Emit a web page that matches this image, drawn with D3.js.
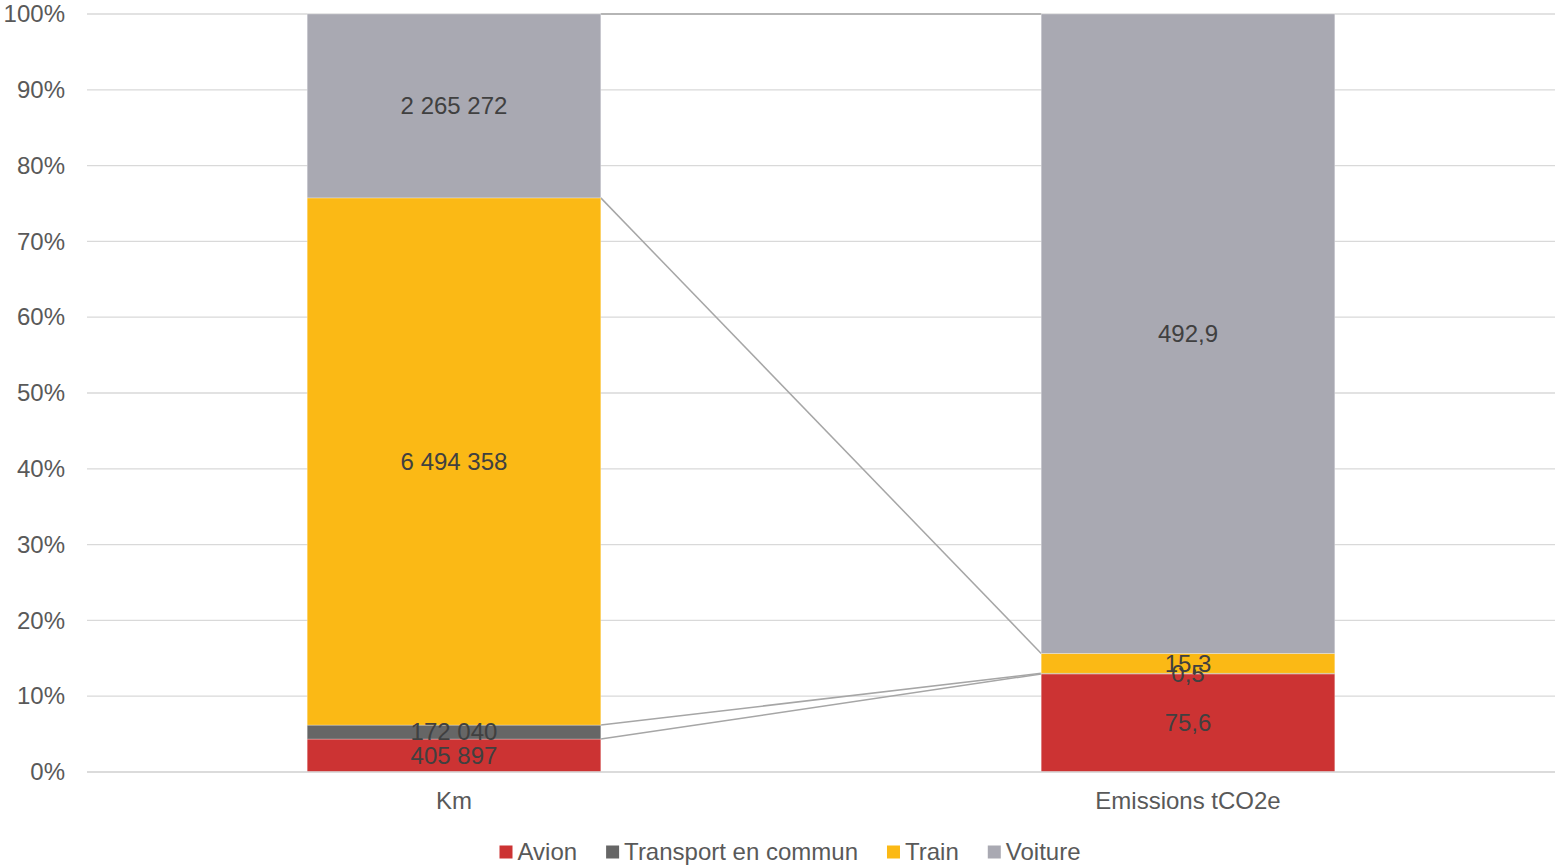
<!DOCTYPE html>
<html>
<head>
<meta charset="utf-8">
<script src="https://cdn.jsdelivr.net/npm/d3@7"></script>
<style>
  html, body { margin: 0; padding: 0; background: #fff; }
  svg { display: block; font-family: "Liberation Sans", Arial, sans-serif; }
</style>
</head>
<body>
<svg id="chart" width="1555" height="866"></svg>
<script>
// Categories and series
const categories = ["Km", "Emissions tCO2e"];
const seriesNames = ["Avion", "Transport en commun", "Train", "Voiture"];
const seriesColors = ["#CC3333", "#666666", "#FBB915", "#A9A9B2"];
const avion = [405897, 75.6];
const transportEnCommun = [172040, 0.5];
const train = [6494358, 15.3];
const voiture = [2265272, 492.9];
const valueLabels = [
  ["405 897", "75,6"],
  ["172 040", "0,5"],
  ["6 494 358", "15,3"],
  ["2 265 272", "492,9"]
];
const yTicks = [0, 0.1, 0.2, 0.3, 0.4, 0.5, 0.6, 0.7, 0.8, 0.9, 1.0];

const seriesValues = [avion, transportEnCommun, train, voiture];
const FS = 24;

// Build a row per category for d3.stack
const rows = categories.map((c, i) => {
  const r = { cat: c };
  seriesNames.forEach((s, k) => { r[s] = seriesValues[k][i]; });
  return r;
});

const stack = d3.stack().keys(seriesNames).offset(d3.stackOffsetExpand);
const stacked = stack(rows);

const svg = d3.select("#chart");
const margin = { left: 87, right: 0, top: 14, bottom: 94 };
const W = 1555, H = 866;
const x0 = margin.left, x1 = W - margin.right;
const yTop = margin.top, yBot = H - margin.bottom;

const x = d3.scaleBand().domain(categories).range([x0, x1]).paddingInner(0.6).paddingOuter(0.3);
const y = d3.scaleLinear().domain([0, 1]).range([yBot, yTop]);

// Gridlines
svg.append("g")
  .selectAll("line")
  .data(yTicks)
  .join("line")
  .attr("x1", x0).attr("x2", x1)
  .attr("y1", d => y(d)).attr("y2", d => y(d))
  .attr("stroke", "#D9D9D9").attr("stroke-width", 1.3);

// Y axis labels
const yAxis = d3.axisLeft(y).tickValues(yTicks).tickFormat(d3.format(".0%")).tickSize(0).tickPadding(0);
const gy = svg.append("g").attr("transform", `translate(${x0 - 22},0)`).call(yAxis);
gy.select(".domain").remove();
gy.selectAll("text")
  .attr("font-family", "Liberation Sans, Arial, sans-serif")
  .attr("font-size", FS).attr("fill", "#595959");

// Series lines between adjacent stacked columns
const lineG = svg.append("g");
stacked.forEach(layer => {
  const a = layer[0], b = layer[1];
  lineG.append("line")
    .attr("x1", x(categories[0]) + x.bandwidth())
    .attr("y1", y(a[1]))
    .attr("x2", x(categories[1]))
    .attr("y2", y(b[1]))
    .attr("stroke", "#A6A6A6").attr("stroke-width", 1.5);
});

// Bars
const barG = svg.append("g");
stacked.forEach((layer, k) => {
  barG.selectAll(null)
    .data(layer)
    .join("rect")
    .attr("x", d => x(d.data.cat))
    .attr("width", x.bandwidth())
    .attr("y", d => y(d[1]))
    .attr("height", d => y(d[0]) - y(d[1]))
    .attr("fill", seriesColors[k])
    .attr("stroke", "#FFFFFF").attr("stroke-opacity", 0.35).attr("stroke-width", 0.8);
});

// Value labels
const labG = svg.append("g");
stacked.forEach((layer, k) => {
  layer.forEach((d, i) => {
    labG.append("text")
      .attr("x", x(d.data.cat) + x.bandwidth() / 2)
      .attr("y", y((d[0] + d[1]) / 2))
      .attr("dy", "0.35em")
      .attr("text-anchor", "middle")
      .attr("font-size", FS)
      .attr("fill", "#404040")
      .text(valueLabels[k][i]);
  });
});

// Category axis
const xAxis = d3.axisBottom(x).tickSize(0).tickPadding(0);
const gx = svg.append("g").attr("transform", `translate(0,${yBot})`).call(xAxis);
gx.select(".domain").attr("stroke", "#D9D9D9").attr("stroke-width", 1.3)
  .attr("d", `M${x0},0H${x1}`);
gx.selectAll("text")
  .attr("y", 29).attr("dy", "0.35em")
  .attr("font-family", "Liberation Sans, Arial, sans-serif")
  .attr("font-size", FS).attr("fill", "#595959");

// Legend
const legend = svg.append("g");
const legY = 852;
const sq = 13, gapSq = 5, gapItem = 29;
const items = legend.selectAll("g")
  .data(seriesNames)
  .join("g");
items.append("rect")
  .attr("width", sq).attr("height", sq)
  .attr("y", legY - sq / 2)
  .attr("fill", (d, i) => seriesColors[i]);
items.append("text")
  .attr("x", sq + gapSq)
  .attr("y", legY).attr("dy", "0.35em")
  .attr("font-size", FS).attr("fill", "#595959")
  .text(d => d);
const widths = [];
items.each(function () {
  const w = sq + gapSq + this.querySelector("text").getComputedTextLength();
  widths.push(w);
});
const total = d3.sum(widths) + gapItem * (widths.length - 1);
let start = 790 - total / 2;
items.attr("transform", (d, i) => {
  const t = `translate(${start},0)`;
  start += widths[i] + gapItem;
  return t;
});
</script>
</body>
</html>
